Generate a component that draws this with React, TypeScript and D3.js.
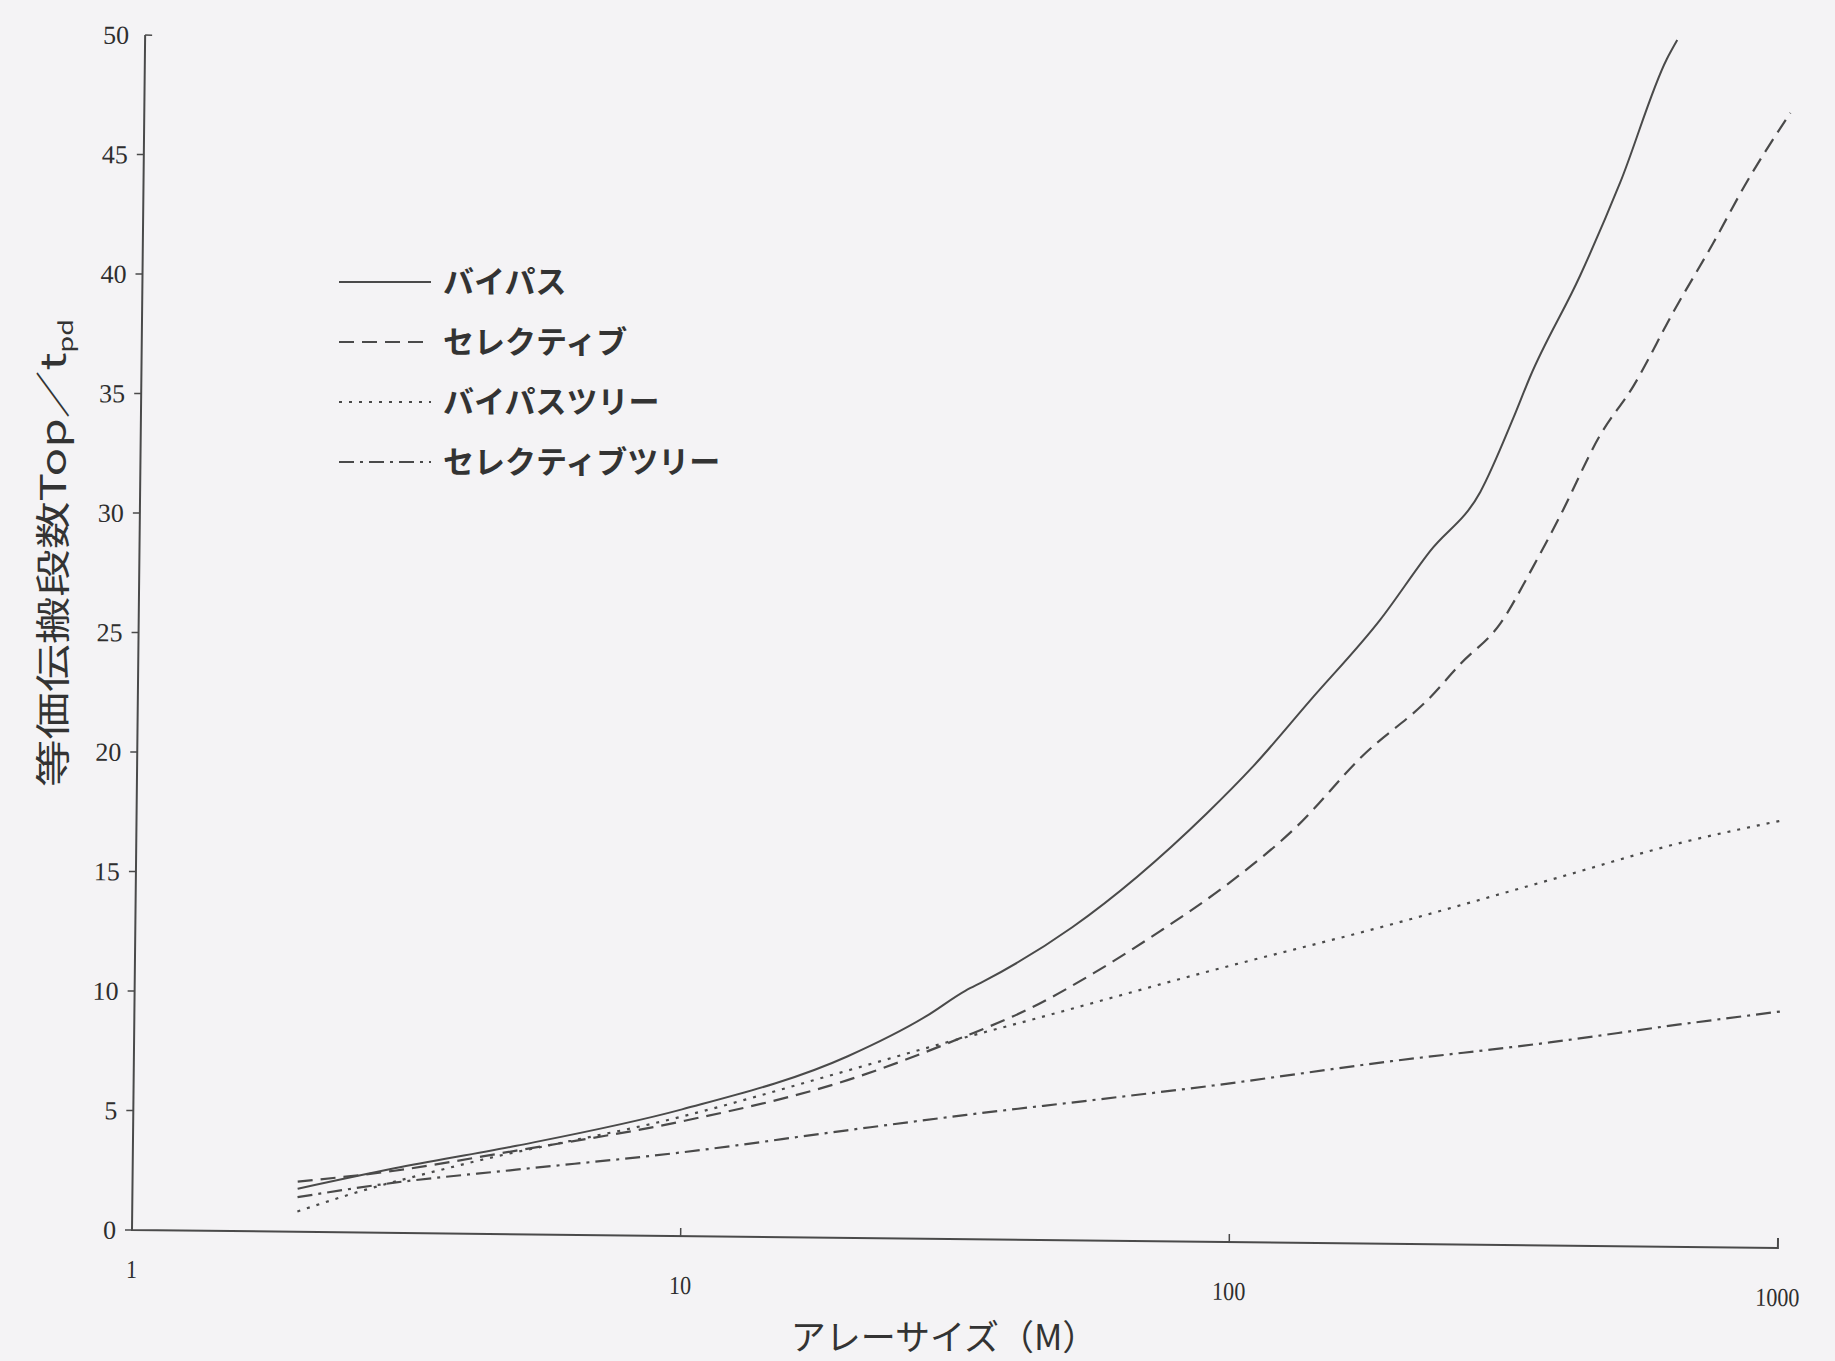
import * as d3 from 'd3'

const W = 1835, H = 1361
// plot frame (the scan is tilted slightly, so the whole plot is rotated a bit)
const ox = 132, oy = 1230, pw = 1646, ph = 1195
const tilt = 0.63

const yTicks = [0, 5, 10, 15, 20, 25, 30, 35, 40, 45, 50]
const xTicks = [1, 10, 100, 1000]

const bypassM = [2, 3, 5, 10, 20, 27.7, 32.7, 35.3, 51, 89, 108, 137, 183, 225, 277, 317, 339, 417, 491, 594, 620]
const bypassV = [1.8, 2.7, 3.7, 5.3, 7.6, 9.3, 10.4, 10.8, 13.1, 17.9, 19.9, 22.7, 26.1, 29.0, 31.5, 34.6, 36.3, 40.6, 44.5, 49.7, 50.5]

const selectiveM = [2, 3, 5, 10, 20, 32, 43, 56, 74, 98, 130, 171, 227, 257, 303, 347, 387, 456, 524, 617, 727, 836, 1000]
const selectiveV = [2.1, 2.6, 3.5, 4.8, 6.6, 8.4, 9.7, 11.2, 13.0, 15.0, 17.4, 20.4, 22.9, 24.3, 26.0, 28.4, 30.5, 33.9, 36.0, 39.1, 42.0, 44.6, 47.5]

const bypassTreeM = [2, 2.5, 4, 10, 20, 30, 43, 90, 190, 378, 650, 1000]
const bypassTreeV = [0.85, 1.6, 2.9, 5.0, 7.0, 8.2, 9.2, 11.3, 13.3, 15.3, 16.9, 17.9]

const selTreeM = [2, 3, 5, 10, 20, 33, 57, 90, 190, 380, 650, 1000]
const selTreeV = [1.45, 2.1, 2.7, 3.5, 4.5, 5.2, 5.9, 6.5, 7.6, 8.5, 9.3, 9.9]

const seriesNames = ['バイパス', 'セレクティブ', 'バイパスツリー', 'セレクティブツリー']
const dashes = ['none', '15,8', '3,7', '15,6,3,6']

const x = d3.scaleLog().domain([1, 1000]).range([0, pw])
const y = d3.scaleLinear().domain([0, 50]).range([0, -ph])

const line = d3.line<[number, number]>()
  .x(d => x(d[0]))
  .y(d => y(d[1]))
  .curve(d3.curveMonotoneX)

const series = [
  d3.zip(bypassM, bypassV),
  d3.zip(selectiveM, selectiveV),
  d3.zip(bypassTreeM, bypassTreeV),
  d3.zip(selTreeM, selTreeV),
] as [number, number][][]

const ink = '#4a4a4a'
const serif = '"Liberation Serif", "DejaVu Serif", serif'
const jp = '"Noto Sans CJK JP", sans-serif'

export default function App() {
  return (
    <svg width={W} height={H} style={{ position: 'absolute', left: 0, top: 0 }}>
      <rect width={W} height={H} fill="#f4f3f5" />
      <g transform={`translate(${ox},${oy}) rotate(${tilt})`}>
        {/* axes */}
        <path d={`M0,${y(50)}V0H${pw}V-10`} fill="none" stroke={ink} strokeWidth={2} />
        {yTicks.map(t => (
          <g key={t} transform={`translate(0,${y(t)})`}>
            <line x1={t === 50 ? 0 : -7} x2={t === 50 ? 7 : 0} stroke={ink} strokeWidth={1.5} />
            <text x={-16} dy="0.35em" textAnchor="end" fontFamily={serif} fontSize={26} fill="#2e2e2e">{t}</text>
          </g>
        ))}
        {xTicks.map(t => (
          <g key={t} transform={`translate(${x(t)},0)`}>
            {t > 1 && t < 1000 && <line y1={0} y2={-8} stroke={ink} strokeWidth={1.5} />}
            <text y={t === 1 ? 48 : 58} textAnchor="middle" fontFamily={serif} fontSize={26} fill="#2e2e2e"
              transform="scale(0.85,1)" x={0}>{t}</text>
          </g>
        ))}
        {/* curves */}
        {series.map((s, i) => (
          <path key={i} d={line(s) ?? ''} fill="none" stroke={ink}
            strokeWidth={i === 0 ? 2 : 2.2} strokeDasharray={dashes[i]} />
        ))}
      </g>

      {/* legend */}
      {seriesNames.map((n, i) => (
        <g key={n} transform={`translate(339,${282 + i * 60})`}>
          <line x1={0} x2={92} stroke={ink} strokeWidth={2} strokeDasharray={dashes[i]} />
          <text x={104} dy="0.36em" fontFamily={jp} fontSize={31} fontWeight={600} fill="#333">{n}</text>
        </g>
      ))}

      {/* axis titles */}
      <text x={944} y={1350} textAnchor="middle" fontFamily={jp} fontSize={35} fill="#333">アレーサイズ（M）</text>
      <text transform="translate(66,553) rotate(-90) scale(1.36,1)" textAnchor="middle" fontFamily={jp} fontSize={35} fill="#333">
        等価伝搬段数Top／t<tspan fontSize={20} dy={7}>pd</tspan>
      </text>
    </svg>
  )
}
